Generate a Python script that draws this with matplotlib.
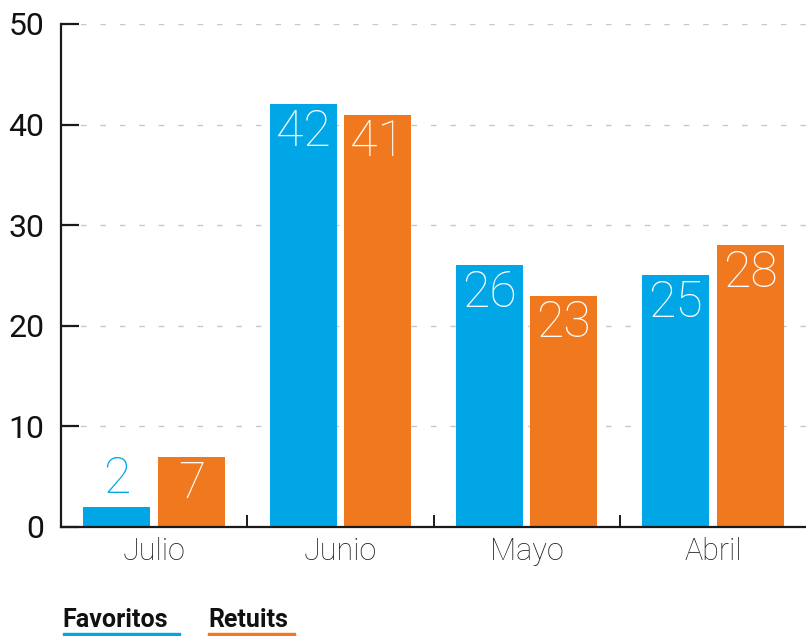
import matplotlib
matplotlib.use("Agg")
import matplotlib.pyplot as plt
import numpy as np
from matplotlib.patches import Rectangle

# data
months = ["Julio", "Junio", "Mayo", "Abril"]
favoritos = [2, 42, 26, 25]
retuits = [7, 41, 23, 28]
series_names = ["Favoritos", "Retuits"]

BLUE = "#00a6e6"
ORANGE = "#f0781e"

plt.rcParams['font.family'] = ['Roboto', 'DejaVu Sans']

fig = plt.figure(figsize=(8.06, 6.36), dpi=100)
ax = fig.add_axes([0.0757, 0.1714, 0.9243, 0.7909])

x = np.arange(len(months))
w = 0.36
off = 0.2
b1 = ax.bar(x - off, favoritos, w, color=BLUE, zorder=2)
b2 = ax.bar(x + off, retuits, w, color=ORANGE, zorder=2)

# value labels: inside the bar top, or above it when the bar is too short
for bars, vals, col in [(b1, favoritos, BLUE), (b2, retuits, ORANGE)]:
    for rect, v in zip(bars, vals):
        cx = rect.get_x() + rect.get_width() / 2
        if v < 5:
            ax.annotate(str(v), (cx, v), xytext=(0, 3), textcoords="offset points",
                        ha="center", va="bottom", color=col, fontsize=36,
                        fontweight="light", zorder=3)
        else:
            ax.annotate(str(v), (cx, v), xytext=(0, -3), textcoords="offset points",
                        ha="center", va="top", color="white", fontsize=36,
                        fontweight="light", zorder=3)

ax.set_xlim(-0.5, 3.5)
ax.set_ylim(0, 50)
ax.set_yticks([0, 10, 20, 30, 40, 50])
ax.set_xticks(x)
ax.set_xticklabels(months)
ax.set_xticks([0.5, 1.5, 2.5], minor=True)

ax.yaxis.grid(True, color="#c8c8c8", linestyle=(0, (4, 10)), linewidth=1, zorder=0)
ax.set_axisbelow(True)

for s in ["top", "right"]:
    ax.spines[s].set_visible(False)
ax.spines["left"].set_linewidth(1.6)
ax.spines["bottom"].set_linewidth(1.6)
ax.spines["left"].set_color("#1a1a1a")
ax.spines["bottom"].set_color("#1a1a1a")

ax.tick_params(axis="y", direction="in", length=13, width=1.6, color="#1a1a1a",
               labelsize=23, pad=12, labelcolor="#111111")
ax.tick_params(axis="x", which="major", length=0, labelsize=22, pad=7, labelcolor="#222222")
ax.tick_params(axis="x", which="minor", direction="in", length=9, width=1.4, color="#1a1a1a")
for lab in ax.get_xticklabels():
    lab.set_fontweight("light")

# legend below the chart
fig.text(62 / 806, 1 - 627 / 636, series_names[0], fontsize=18, fontweight="bold",
         color="#111111", ha="left", va="baseline")
fig.text(208 / 806, 1 - 627 / 636, series_names[1], fontsize=18, fontweight="bold",
         color="#111111", ha="left", va="baseline")
fig.patches.append(Rectangle((63 / 806, 0), 117 / 806, 3 / 636, transform=fig.transFigure,
                             color=BLUE, figure=fig))
fig.patches.append(Rectangle((208 / 806, 0), 87 / 806, 3 / 636, transform=fig.transFigure,
                             color=ORANGE, figure=fig))

fig.savefig("out.png", dpi=100)
